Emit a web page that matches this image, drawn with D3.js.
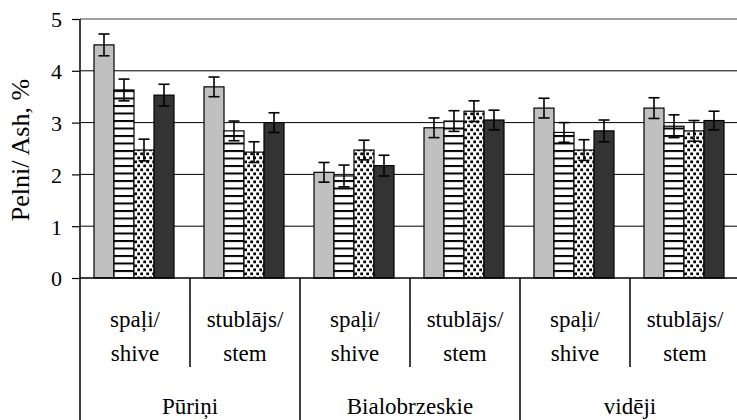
<!DOCTYPE html>
<html>
<head>
<meta charset="utf-8">
<script src="https://cdnjs.cloudflare.com/ajax/libs/d3/7.8.5/d3.min.js"></script>
<style>
body{margin:0;background:#fff}
svg{display:block}
</style>
</head>
<body>
<div id="chart"></div>
<script>
// varieties and plant parts
var varieties = ["Pūriņi","Bialobrzeskie","vidēji"]
var parts = [["spaļi/","shive"],["stublājs/","stem"]]
var series = ["s1","s2","s3","s4"]

// ash content %, one value per variety/part (Pūriņi shive, Pūriņi stem, Bialo shive, Bialo stem, vid shive, vid stem)
var s1 = [4.50,3.69,2.04,2.90,3.28,3.28]
var s2 = [3.63,2.84,1.97,3.03,2.81,2.93]
var s3 = [2.47,2.43,2.47,3.22,2.47,2.84]
var s4 = [3.53,3.00,2.17,3.05,2.84,3.04]
var e1 = [0.21,0.19,0.19,0.19,0.19,0.20]
var e2 = [0.21,0.19,0.21,0.20,0.19,0.22]
var e3 = [0.21,0.20,0.19,0.20,0.20,0.20]
var e4 = [0.21,0.19,0.20,0.19,0.21,0.18]
var yTicks = [0,1,2,3,4,5]

var W = 737, H = 420
var mLeft = 80, mRight = 740, mTop = 19, mBottom = 278
var FONT = "'Liberation Serif', serif"

var svg = d3.select("#chart").append("svg").attr("width",W).attr("height",H)

var defs = svg.append("defs")
var stripes = defs.append("pattern").attr("id","stripes").attr("patternUnits","userSpaceOnUse")
	.attr("width",8).attr("height",7.5)
stripes.append("rect").attr("width",8).attr("height",7.5).attr("fill","#fff")
stripes.append("rect").attr("y",0).attr("width",8).attr("height",2).attr("fill","#000")

var dots = defs.append("pattern").attr("id","dots").attr("patternUnits","userSpaceOnUse")
	.attr("width",6).attr("height",8)
dots.append("rect").attr("width",6).attr("height",8).attr("fill","#fff")
dots.append("rect").attr("x",0.3).attr("y",0.5).attr("width",2.7).attr("height",2.7).attr("fill","#000")
dots.append("rect").attr("x",3.3).attr("y",4.5).attr("width",2.7).attr("height",2.7).attr("fill","#000")

var fills = {s1:"#c0c0c0", s2:"url(#stripes)", s3:"url(#dots)", s4:"#333333"}

// flatten into cells
var cells = []
varieties.forEach(function(v,i){
	parts.forEach(function(p,j){
		var k = i*2+j
		cells.push({id:k, variety:v, part:p,
			vals:[{s:"s1",v:s1[k],e:e1[k]},{s:"s2",v:s2[k],e:e2[k]},{s:"s3",v:s3[k],e:e3[k]},{s:"s4",v:s4[k],e:e4[k]}]})
	})
})

var x0 = d3.scaleBand().domain(cells.map(function(d){return d.id})).range([mLeft,mRight])
var x1 = d3.scaleBand().domain(series).range([14,94])
var y = d3.scaleLinear().domain([0,5]).range([mBottom,mTop])

// gridlines
svg.append("g").selectAll("line").data(yTicks.filter(function(t){return t>0}))
	.enter().append("line")
	.attr("x1",mLeft).attr("x2",W)
	.attr("y1",function(d){return y(d)}).attr("y2",function(d){return y(d)})
	.attr("stroke",function(d){return d==5?"#808080":"#000"})
	.attr("stroke-width",function(d){return d==5?1.5:1})

// bars
var grp = svg.append("g").selectAll("g").data(cells).enter().append("g")
	.attr("transform",function(d){return "translate("+x0(d.id)+",0)"})

grp.selectAll("rect").data(function(d){return d.vals}).enter().append("rect")
	.attr("x",function(d){return x1(d.s)})
	.attr("width",x1.bandwidth())
	.attr("y",function(d){return y(d.v)})
	.attr("height",function(d){return mBottom-y(d.v)})
	.attr("fill",function(d){return fills[d.s]})
	.attr("stroke","#000").attr("stroke-width",1.2)

// error bars
var eb = grp.selectAll("g.err").data(function(d){return d.vals}).enter().append("g").attr("class","err")
	.attr("stroke","#000").attr("stroke-width",1.6)
eb.append("line")
	.attr("x1",function(d){return x1(d.s)+x1.bandwidth()/2}).attr("x2",function(d){return x1(d.s)+x1.bandwidth()/2})
	.attr("y1",function(d){return y(d.v-d.e)}).attr("y2",function(d){return y(d.v+d.e)})
eb.append("line")
	.attr("x1",function(d){return x1(d.s)+x1.bandwidth()/2-5.5}).attr("x2",function(d){return x1(d.s)+x1.bandwidth()/2+5.5})
	.attr("y1",function(d){return y(d.v+d.e)}).attr("y2",function(d){return y(d.v+d.e)})
eb.append("line")
	.attr("x1",function(d){return x1(d.s)+x1.bandwidth()/2-5.5}).attr("x2",function(d){return x1(d.s)+x1.bandwidth()/2+5.5})
	.attr("y1",function(d){return y(d.v-d.e)}).attr("y2",function(d){return y(d.v-d.e)})

// y axis
var yAxis = svg.append("g").attr("transform","translate("+mLeft+",0)")
	.call(d3.axisLeft(y).tickValues(yTicks).tickFormat(d3.format("d")).tickSizeOuter(0).tickSize(8).tickPadding(10))
yAxis.select(".domain").remove()
yAxis.selectAll("line").attr("stroke","#000").attr("stroke-width",1.2)
yAxis.selectAll("text").style("font-family",FONT).style("font-size","22px").attr("fill","#000").attr("dy","0.36em")

svg.append("line").attr("x1",mLeft).attr("x2",mLeft).attr("y1",mTop).attr("y2",H).attr("stroke","#000").attr("stroke-width",1.5)
// x baseline
svg.append("line").attr("x1",mLeft).attr("x2",W).attr("y1",mBottom).attr("y2",mBottom).attr("stroke","#000").attr("stroke-width",1.5)

// category dividers
cells.forEach(function(d){
	if(d.id==0) return
	var xx = x0(d.id)
	svg.append("line").attr("x1",xx).attr("x2",xx).attr("y1",mBottom)
		.attr("y2",d.id%2==0?H:367).attr("stroke","#000").attr("stroke-width",1.5)
})

// part labels
var pl = svg.append("g").selectAll("text").data(cells).enter().append("text")
	.attr("text-anchor","middle").style("font-family",FONT).style("font-size","23px")
	.attr("x",function(d){return x0(d.id)+x0.bandwidth()/2})
	.attr("y",327)
pl.append("tspan").text(function(d){return d.part[0]})
pl.append("tspan").attr("x",function(d){return x0(d.id)+x0.bandwidth()/2}).attr("dy",34).text(function(d){return d.part[1]})

// variety labels
svg.append("g").selectAll("text").data(varieties).enter().append("text")
	.attr("text-anchor","middle").style("font-family",FONT).style("font-size","23px")
	.attr("x",function(d,i){return x0(i*2)+x0.bandwidth()})
	.attr("y",414)
	.text(function(d){return d})

// y title
svg.append("text").attr("text-anchor","middle").style("font-family",FONT).style("font-size","26px")
	.attr("transform","translate(29,150) rotate(-90)")
	.text("Pelni/ Ash, %")
</script>
</body>
</html>
